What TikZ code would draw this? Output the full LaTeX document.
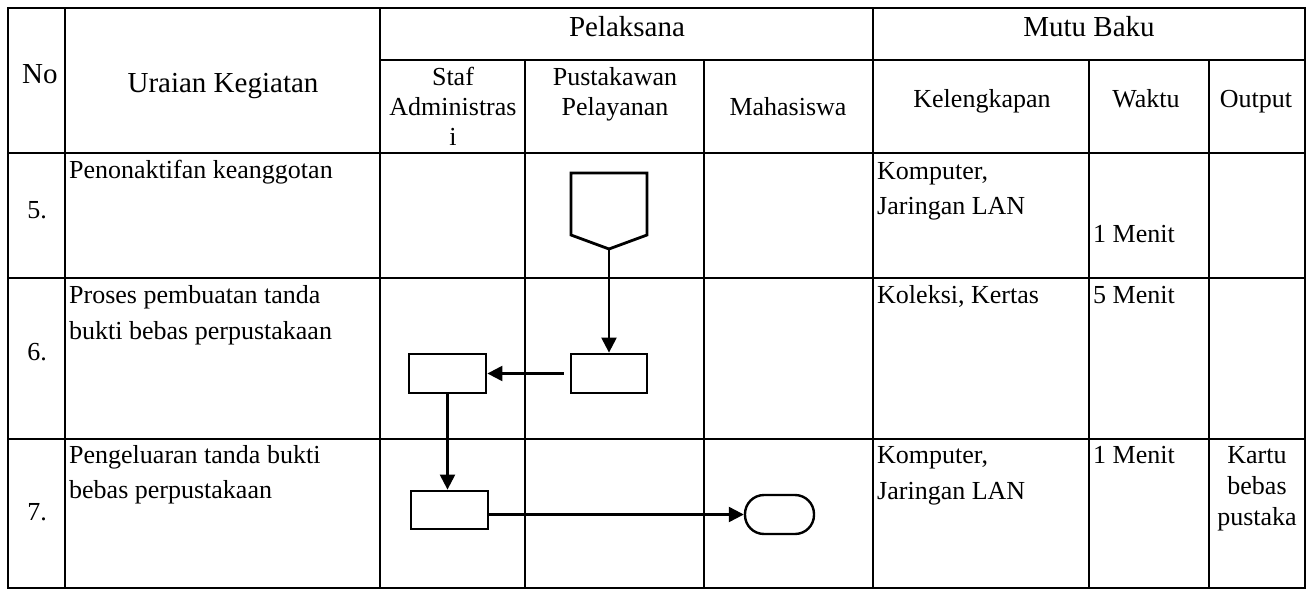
\documentclass[tikz,border=0pt]{standalone}
\usepackage{fontspec}
\setmainfont{Liberation Serif}
\usetikzlibrary{arrows.meta,calc}
\newcommand\hbigf{\fontsize{29}{33}\selectfont}
\newcommand\hsubf{\fontsize{26}{30}\selectfont}
\newcommand\hbodyf{\fontsize{26}{35}\selectfont}
\tikzset{
  grid/.style={line width=1.4pt, black},
  hb/.style={anchor=base, inner sep=0pt, font=\hbigf},
  hs/.style={anchor=base, inner sep=0pt, font=\hsubf},
  bt/.style={anchor=base west, inner sep=0pt, font=\hbodyf},
  bc/.style={anchor=base, inner sep=0pt, font=\hbodyf},
  procbox/.style={draw, line width=2.8pt, minimum width=77pt, minimum height=39pt, inner sep=0pt},
  termbox/.style={draw, line width=2.4pt, minimum width=69pt, minimum height=39pt, inner sep=0pt, rounded corners=19pt},
  conn/.style={line width=2.3pt, -{Triangle[length=15pt,width=15pt]}},
}
\begin{document}
\begin{tikzpicture}[x=1pt,y=-1pt]
\useasboundingbox (0,0) rectangle (1315,597);
% grid
\draw[grid] (8,8) rectangle (1305,588);
\draw[grid] (65,8) -- (65,588);
\draw[grid] (380,8) -- (380,588);
\draw[grid] (873,8) -- (873,588);
\draw[grid] (525,60) -- (525,588);
\draw[grid] (704,60) -- (704,588);
\draw[grid] (1089,60) -- (1089,588);
\draw[grid] (1209,60) -- (1209,588);
\draw[grid] (380,60) -- (1305,60);
\draw[grid] (8,153) -- (1305,153);
\draw[grid] (8,278) -- (1305,278);
\draw[grid] (8,439) -- (1305,439);
% headers
\node[hb, anchor=base west] (hno) at (22,83) {No};
\node[hb] (hur) at (223,92) {Uraian Kegiatan};
\node[hb] (hpel) at (627,36) {Pelaksana};
\node[hb] (hmb) at (1089,36) {Mutu Baku};
\node[hs] (hs1) at (453,85) {Staf};
\node[hs] (hs2) at (453,115) {Administras};
\node[hs] (hs3) at (453,145) {i};
\node[hs] (hp1) at (615,85) {Pustakawan};
\node[hs] (hp2) at (615,115) {Pelayanan};
\node[hs] (hmh) at (788,115) {Mahasiswa};
\node[hs] (hkl) at (982,107) {Kelengkapan};
\node[hs] (hwk) at (1146,107) {Waktu};
\node[hs] (hop) at (1256,107) {Output};
% row 5
\node[bc] (n5) at (37,218) {5.};
\node[bt] (u5) at (69,178) {Penonaktifan keanggotan};
\node[bt] (k5a) at (877,179) {Komputer,};
\node[bt] (k5b) at (877,214) {Jaringan LAN};
\node[bt] (w5) at (1093,242) {1 Menit};
% row 6
\node[bc] (n6) at (37,360) {6.};
\node[bt] (u6a) at (69,303) {Proses pembuatan tanda};
\node[bt] (u6b) at (69,339) {bukti bebas perpustakaan};
\node[bt] (k6) at (877,303) {Koleksi, Kertas};
\node[bt] (w6) at (1093,303) {5 Menit};
% row 7
\node[bc] (n7) at (37,520) {7.};
\node[bt] (u7a) at (69,463) {Pengeluaran tanda bukti};
\node[bt] (u7b) at (69,498) {bebas perpustakaan};
\node[bt] (k7a) at (877,463) {Komputer,};
\node[bt] (k7b) at (877,499) {Jaringan LAN};
\node[bt] (w7) at (1093,463) {1 Menit};
\node[bc] (o7a) at (1257,463) {Kartu};
\node[bc] (o7b) at (1257,494) {bebas};
\node[bc] (o7c) at (1257,525) {pustaka};
% flow shapes
\draw[line width=2.8pt, line join=miter] (571,173) -- (647,173) -- (647,235) -- (609,249) -- (571,235) -- cycle;
\coordinate (offtip) at (609,249);
\node[procbox, minimum width=76pt] (B) at (609,373.5) {};
\node[procbox] (A) at (447.5,373.5) {};
\node[procbox, minimum height=38pt] (C) at (449.5,510) {};
\node[termbox] (T) at (779.5,514.5) {};
% connectors
\draw[conn] (offtip) -- (B.north);
\draw[conn] ([xshift=-6pt]B.west) -- (A.east);
\draw[conn] (A.south) -- (A.south |- C.north);
\draw[conn] (C.east |- T.west) -- (T.west);
\end{tikzpicture}
\end{document}
